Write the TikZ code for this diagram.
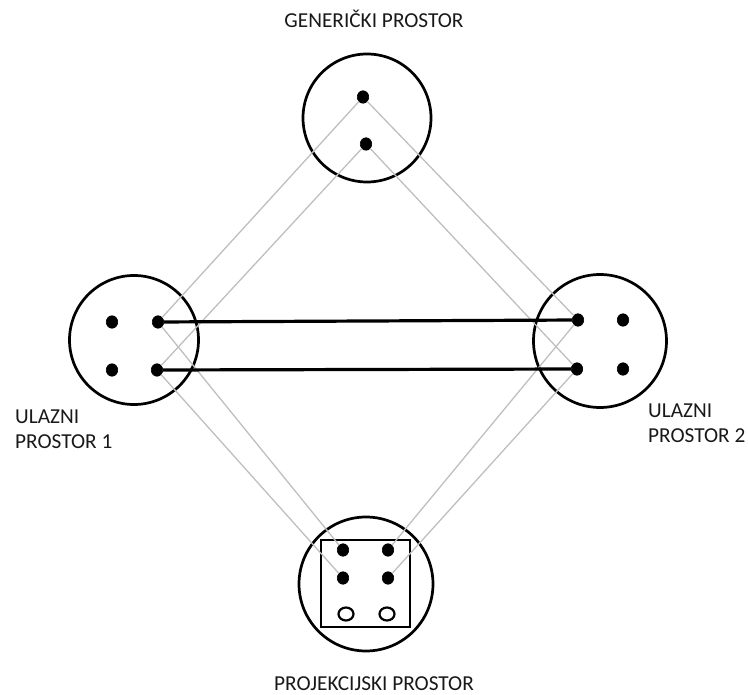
\documentclass[tikz,border=0pt]{standalone}
\usepackage{fontspec}
\setmainfont{Carlito}
\usepackage{tikz}
\usetikzlibrary{shapes.geometric}
\tikzset{
    every node/.style={font=\fontsize{21.3}{25}\selectfont}
}

\begin{document}
\begin{tikzpicture}[x=1pt,y=-1pt]
    % Define styles
    \tikzstyle{space} = [circle, draw, line width=2.7pt, inner sep=0pt]
    \tikzstyle{dot} = [ellipse, draw, fill=black, line width=0.6pt, inner sep=0pt,
        minimum width=11.5pt, minimum height=12.5pt]
    \tikzstyle{hole} = [ellipse, draw, line width=2.2pt, inner sep=0pt,
        minimum width=15pt, minimum height=13pt]
    \tikzstyle{map} = [draw=black!25, line width=1.3pt]
    \tikzstyle{link} = [draw, line width=3.2pt]
    \tikzstyle{caption} = [text=black!90, inner sep=0pt]

    \useasboundingbox (0,0) rectangle (748,695);

    % Place nodes
    \node [space, minimum size=128pt] (gen) at (367,118) {};
    \node [space, minimum size=129pt] (in1) at (134,340) {};
    \node [space, minimum size=133pt] (in2) at (600,341) {};
    \node [space, minimum size=134pt] (proj) at (366,584) {};
    \node [rectangle, draw, line width=2.6pt, minimum width=89pt, minimum height=87pt,
        inner sep=0pt] (box) at (365.5,583.5) {};

    \node [dot] (g1) at (363,97) {};
    \node [dot] (g2) at (366,144) {};
    \node [dot] (a1) at (112,322) {};
    \node [dot] (a2) at (158,322) {};
    \node [dot] (a3) at (112,370) {};
    \node [dot] (a4) at (157,370) {};
    \node [dot] (b1) at (578,320) {};
    \node [dot] (b2) at (623,320) {};
    \node [dot] (b3) at (577,369) {};
    \node [dot] (b4) at (623,369) {};
    \node [dot] (p1) at (343,550) {};
    \node [dot] (p2) at (388,550) {};
    \node [dot] (p3) at (343,578) {};
    \node [dot] (p4) at (388,578) {};
    \node [hole] (p5) at (346,614) {};
    \node [hole] (p6) at (387,614) {};

    \node [caption, anchor=base] (genlbl) at (374,28) {GENERIČKI PROSTOR};
    \node [caption, anchor=base] (projlbl) at (374,690) {PROJEKCIJSKI PROSTOR};
    \node [caption, anchor=north west, align=left] (in1lbl) at (15,410) {ULAZNI\\PROSTOR 1};
    \node [caption, anchor=north west, align=left] (in2lbl) at (648,404) {ULAZNI\\PROSTOR 2};

    % Connect nodes
    \draw [map] (g1) -- (a2);
    \draw [map] (g2) -- (a4);
    \draw [map] (g1) -- (b1);
    \draw [map] (g2) -- (b3);
    \draw [map] (a2) -- (p1);
    \draw [map] (a4) -- (p3);
    \draw [map] (b1) -- (p2);
    \draw [map] (b3) -- (p4);
    \draw [link] (a2) -- (b1);
    \draw [link] (a4) -- (b3);
\end{tikzpicture}
\end{document}
